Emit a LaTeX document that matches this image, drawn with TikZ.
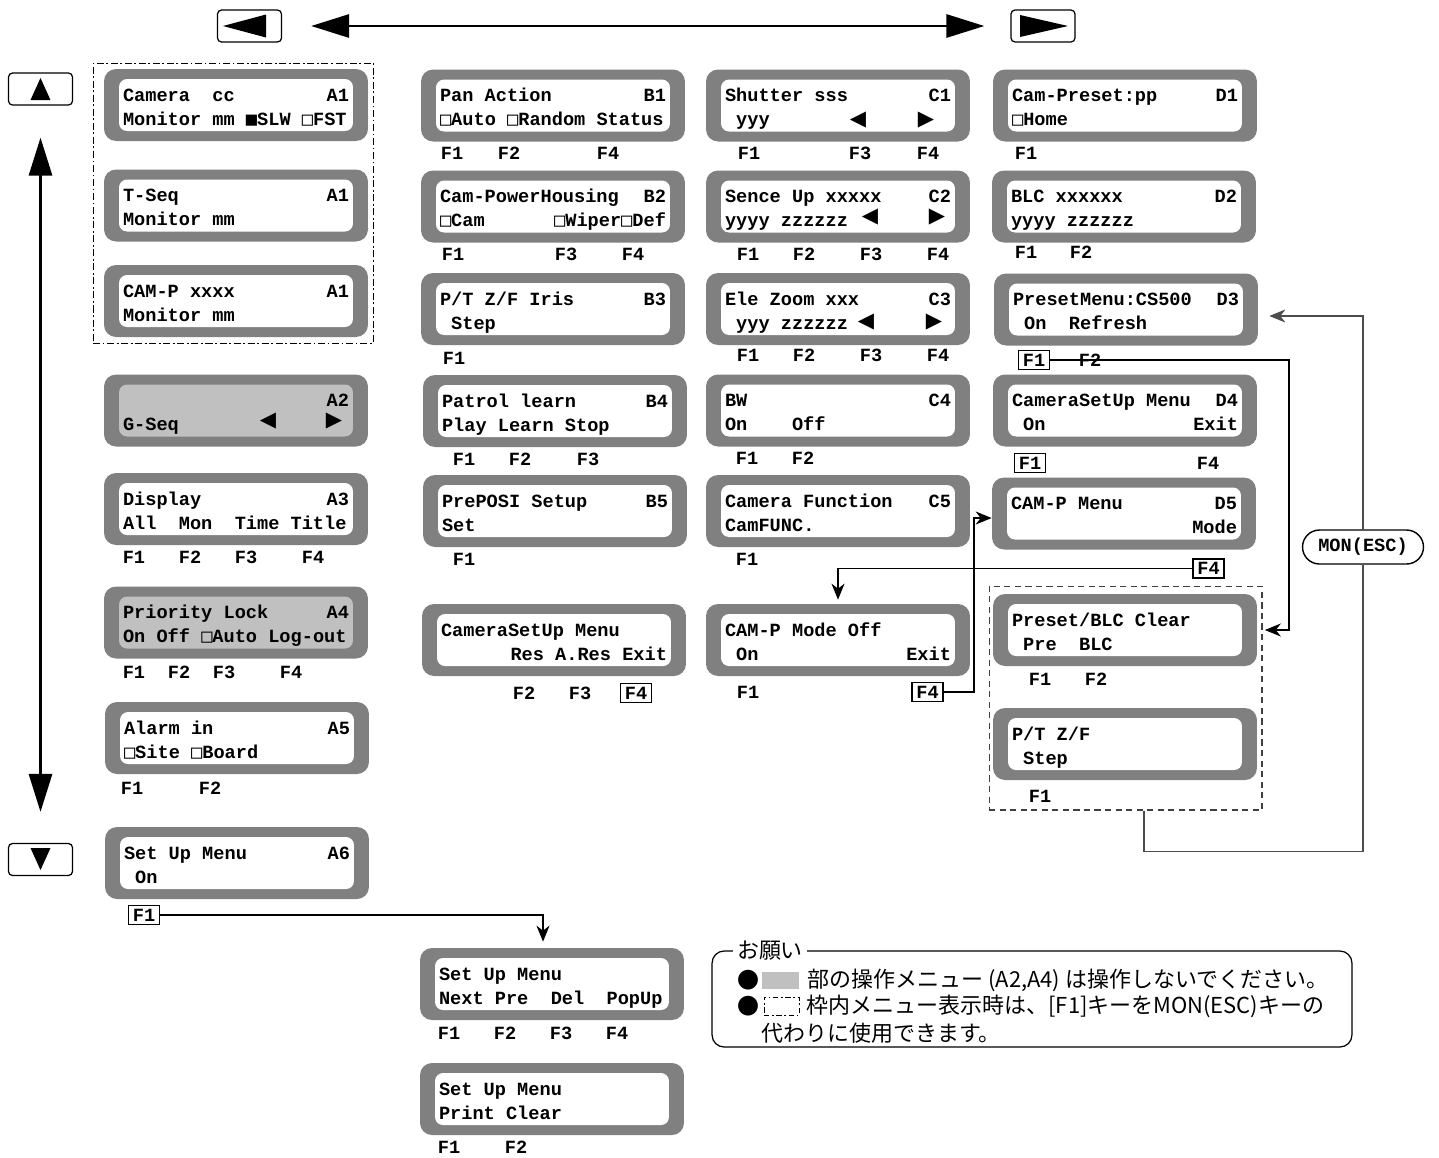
\documentclass[tikz,border=0pt]{standalone}
\usepackage{fontspec}
\usepackage{tikz}
\usetikzlibrary{arrows.meta, positioning, calc}
\newfontfamily\lcdfam{Liberation Mono}
\newfontfamily\symfam{DejaVu Sans Mono}
\newfontfamily\trifam{DejaVu Sans}
\newfontfamily\jpfont{Noto Sans CJK JP}
\definecolor{lcdgray}{RGB}{128,128,128}
\definecolor{lcdlight}{RGB}{192,192,192}
\newcommand{\lcdfont}{\lcdfam\bfseries\fontsize{10.6pt}{13.66pt}\selectfont}
\newcommand{\bsq}{{\symfam ■}}
\newcommand{\wsq}{{\symfam □}}
% one LCD character cell
\newcommand{\gap}{\hspace*{6.36pt}}
% one LCD screen: frame, glass and two text lines
\newcommand{\lcd}[5][white]{%
  \node[lcd] (#2) at (#3) {};
  \node[lcdin, fill=#1] (#2-in) at (#2) {};
  \node[lcdtxt] (#2-txt) at (#2) {\strut#4\\#5\strut};
}

\begin{document}
\begin{tikzpicture}[x=0.02cm, y=-0.02cm,
  lcd/.style={fill=lcdgray, rounded corners=0.24cm, minimum width=5.28cm, minimum height=1.44cm, inner sep=0},
  lcdin/.style={rounded corners=0.16cm, minimum width=4.68cm, minimum height=1.04cm, inner sep=0},
  lcdtxt/.style={text width=4.52cm, align=left, inner sep=0, yshift=-0.07cm, font=\lcdfont},
  fkey/.style={font=\lcdfont, inner sep=0},
  fkbox/.style={font=\lcdfont, draw, line width=0.85pt, inner xsep=0.09cm, inner ysep=0.07cm},
  tri/.style={font=\trifam\fontsize{12pt}{12pt}\selectfont, inner sep=0},
  btn/.style={draw, line width=0.7pt, rounded corners=0.08cm, minimum width=1.28cm, minimum height=0.64cm},
  big/.style={line width=1.7pt, {Triangle[length=0.76cm, width=0.46cm]}-{Triangle[length=0.76cm, width=0.46cm]}},
  flow/.style={line width=0.7pt, -{Stealth[length=0.32cm, width=0.26cm, inset=0.1cm]}},
  monline/.style={line width=0.7pt, black!70},
  notetxt/.style={font=\jpfont\fontsize{12.5pt}{15pt}\selectfont, inner sep=0}]
  \useasboundingbox (0,0) rectangle (1439,1157);

  % Cursor keys
  \node[btn] (bl) at (249.5,26) {};
  \fill ([xshift=-0.53cm]bl.center) -- ([xshift=0.33cm, yshift=0.23cm]bl.center) -- ([xshift=0.33cm, yshift=-0.23cm]bl.center) -- cycle;
  \node[btn] (br) at (1043,26) {};
  \fill ([xshift=0.5cm]br.center) -- ([xshift=-0.46cm, yshift=0.22cm]br.center) -- ([xshift=-0.46cm, yshift=-0.22cm]br.center) -- cycle;
  \node[btn] (bu) at (40.5,89) {};
  \fill ([yshift=0.22cm]bu.center) -- ([xshift=-0.2cm, yshift=-0.22cm]bu.center) -- ([xshift=0.2cm, yshift=-0.22cm]bu.center) -- cycle;
  \node[btn] (bd) at (40.5,859.5) {};
  \fill ([yshift=-0.21cm]bd.center) -- ([xshift=-0.2cm, yshift=0.23cm]bd.center) -- ([xshift=0.2cm, yshift=0.23cm]bd.center) -- cycle;
  \draw[big, shorten <=0.58cm, shorten >=0.52cm] (bl.east) -- (bl.east -| br.west);
  \draw[big, shorten <=0.64cm, shorten >=0.62cm] (bu.south) -- (bd.north);

  % Column A
  \node[draw, line width=0.5pt, dash pattern=on 4pt off 1.5pt on 1pt off 1.5pt, minimum width=5.6cm, minimum height=5.6cm] (afr) at (233,203) {};
  \lcd{a1}{236,105}{Camera\gap\gap cc\hfill A1}{Monitor\gap mm\gap\bsq SLW\gap\wsq FST}
  \lcd{a1t}{236,205.5}{T-Seq\hfill A1}{Monitor\gap mm}
  \lcd{a1c}{236,301}{CAM-P\gap xxxx\hfill A1}{Monitor\gap mm}
  \lcd[lcdlight]{a2}{236,410.5}{\hspace*{\fill}A2}{G-Seq}
  \node[tri] (a2l) at (268,421) {◀};
  \node[tri] (a2r) at (334,421) {▶};
  \lcd{a3}{236,509}{Display\hfill A3}{All\gap\gap Mon\gap\gap Time\gap Title}
  \node[fkey] (a3f1) at (134,557) {F1};
  \node[fkey] (a3f2) at (190,557) {F2};
  \node[fkey] (a3f3) at (246,557) {F3};
  \node[fkey] (a3f4) at (313,557) {F4};
  \lcd[lcdlight]{a4}{236,622.5}{Priority\gap Lock\hfill A4}{On\gap Off\gap\wsq Auto\gap Log-out}
  \node[fkey] (a4f1) at (134,672) {F1};
  \node[fkey] (a4f2) at (179,672) {F2};
  \node[fkey] (a4f3) at (224,672) {F3};
  \node[fkey] (a4f4) at (291,672) {F4};
  \lcd{a5}{237,738}{Alarm\gap in\hfill A5}{\wsq Site\gap\wsq Board}
  \node[fkey] (a5f1) at (132,788) {F1};
  \node[fkey] (a5f2) at (210,788) {F2};
  \lcd{a6}{237,863}{Set\gap Up\gap Menu\hfill A6}{\gap On}
  \node[fkbox] (a6f1) at (144,915) {F1};

  % Column B
  \lcd{b1}{553,105.5}{Pan\gap Action\hfill B1}{\wsq Auto\gap\wsq Random\gap Status}
  \node[fkey] (b1f1) at (452,153) {F1};
  \node[fkey] (b1f2) at (509,153) {F2};
  \node[fkey] (b1f4) at (608,153) {F4};
  \lcd{b2}{553,206.5}{Cam-PowerHousing\hfill B2}{\wsq Cam\hfill\wsq Wiper\wsq Def}
  \node[fkey] (b2f1) at (453,254) {F1};
  \node[fkey] (b2f3) at (566,254) {F3};
  \node[fkey] (b2f4) at (633,254) {F4};
  \lcd{b3}{553,309}{P/T\gap Z/F\gap Iris\hfill B3}{\gap Step}
  \node[fkey] (b3f1) at (454,358) {F1};
  \lcd{b4}{555,411}{Patrol\gap learn\hfill B4}{Play\gap Learn\gap Stop}
  \node[fkey] (b4f1) at (464,459) {F1};
  \node[fkey] (b4f2) at (520,459) {F2};
  \node[fkey] (b4f3) at (588,459) {F3};
  \lcd{b5}{555,511}{PrePOSI\gap Setup\hfill B5}{Set}
  \node[fkey] (b5f1) at (464,559) {F1};
  \lcd{b6}{554,640}{CameraSetUp\gap Menu}{\hspace*{\fill}Res\gap A.Res\gap Exit}
  \node[fkey] (b6f2) at (524,693) {F2};
  \node[fkey] (b6f3) at (580,693) {F3};
  \node[fkbox] (b6f4) at (636,693) {F4};

  % Set Up Menu pages
  \lcd{su1}{552,984}{Set\gap Up\gap Menu}{Next\gap Pre\gap\gap Del\gap\gap PopUp}
  \node[fkey] (su1f1) at (449,1033) {F1};
  \node[fkey] (su1f2) at (505,1033) {F2};
  \node[fkey] (su1f3) at (561,1033) {F3};
  \node[fkey] (su1f4) at (617,1033) {F4};
  \lcd{su2}{552,1099}{Set\gap Up\gap Menu}{Print\gap Clear}
  \node[fkey] (su2f1) at (449,1147) {F1};
  \node[fkey] (su2f2) at (516,1147) {F2};

  % Column C
  \lcd{c1}{838,105.5}{Shutter\gap sss\hfill C1}{\gap yyy}
  \node[tri] (c1l) at (858,120) {◀};
  \node[tri] (c1r) at (926,120) {▶};
  \node[fkey] (c1f1) at (749,153) {F1};
  \node[fkey] (c1f3) at (860,153) {F3};
  \node[fkey] (c1f4) at (928,153) {F4};
  \lcd{c2}{838,206.5}{Sence\gap Up\gap xxxxx\hfill C2}{yyyy\gap zzzzzz}
  \node[tri] (c2l) at (870,217) {◀};
  \node[tri] (c2r) at (937,217) {▶};
  \node[fkey] (c2f1) at (748,254) {F1};
  \node[fkey] (c2f2) at (804,254) {F2};
  \node[fkey] (c2f3) at (871,254) {F3};
  \node[fkey] (c2f4) at (938,254) {F4};
  \lcd{c3}{838,309}{Ele\gap Zoom\gap xxx\hfill C3}{\gap yyy\gap zzzzzz}
  \node[tri] (c3l) at (866,322) {◀};
  \node[tri] (c3r) at (934,322) {▶};
  \node[fkey] (c3f1) at (748,355) {F1};
  \node[fkey] (c3f2) at (804,355) {F2};
  \node[fkey] (c3f3) at (871,355) {F3};
  \node[fkey] (c3f4) at (938,355) {F4};
  \lcd{c4}{838,410.5}{BW\hfill C4}{On\gap\gap\gap\gap Off}
  \node[fkey] (c4f1) at (747,458) {F1};
  \node[fkey] (c4f2) at (803,458) {F2};
  \lcd{c5}{838,511}{Camera\gap Function\hfill C5}{CamFUNC.}
  \node[fkey] (c5f1) at (747,559) {F1};
  \lcd{c6}{838,640}{CAM-P\gap Mode\gap Off}{\gap On\hfill Exit}
  \node[fkey] (c6f1) at (748,692) {F1};
  \node[fkbox] (c6f4) at (927.5,692) {F4};

  % Column D
  \lcd{d1}{1125,105.5}{Cam-Preset:pp\hfill D1}{\wsq Home}
  \node[fkey] (d1f1) at (1026,153) {F1};
  \lcd{d2}{1124,206.5}{BLC\gap xxxxxx\hfill D2}{yyyy\gap zzzzzz}
  \node[fkey] (d2f1) at (1026,252) {F1};
  \node[fkey] (d2f2) at (1081,252) {F2};
  \lcd{d3}{1126,309.5}{PresetMenu:CS500\hfill D3}{\gap On\gap\gap Refresh}
  \node[fkbox] (d3f1) at (1034,360) {F1};
  \node[fkey] (d3f2) at (1090,360) {F2};
  \lcd{d4}{1125,410.5}{CameraSetUp\gap Menu\hfill D4}{\gap On\hfill Exit}
  \node[fkbox] (d4f1) at (1030,463) {F1};
  \node[fkey] (d4f4) at (1208,463) {F4};
  \lcd{d5}{1124,513.5}{CAM-P\gap Menu\hfill D5}{\hspace*{\fill}Mode}
  \node[fkbox] (d5f4) at (1208.5,568.5) {F4};
  \node[draw, black!75, line width=0.6pt, dash pattern=on 3.5pt off 2.5pt, minimum width=5.46cm, minimum height=4.48cm] (dfr) at (1125.5,698) {};
  \lcd{pb}{1125,630}{Preset/BLC\gap Clear}{\gap Pre\gap\gap BLC}
  \node[fkey] (pbf1) at (1040,679) {F1};
  \node[fkey] (pbf2) at (1096,679) {F2};
  \lcd{pt}{1125,744}{P/T\gap Z/F}{\gap Step}
  \node[fkey] (ptf1) at (1040,796) {F1};

  % MON(ESC) key
  \node[draw, fill=white, line width=0.8pt, rounded corners=0.34cm, minimum width=2.42cm, minimum height=0.68cm, font=\lcdfont] (mon) at (1363,547) {MON(ESC)};

  % Connectors
  \coordinate (d3turn) at (1289,360);
  \draw[flow] (d3f1.east) -- (d3turn) |- ([xshift=0.15cm]pb.east);
  \draw[flow] (c6f4.east) -- ++(30,0) |- ([yshift=-0.09cm]d5.west);
  \draw[flow] (d5f4.west) -| ([yshift=0.08cm]c6.north);
  \draw[flow] (a6f1.east) -| ([xshift=-0.18cm, yshift=0.12cm]su1.north);
  \draw[monline] ([xshift=0.37cm]dfr.south) -- ++(0,41) -| (mon.south);
  \draw[monline, -{Stealth[length=0.32cm, width=0.26cm, inset=0.1cm]}] (mon.north) |- ([xshift=0.22cm, yshift=-0.13cm]d3.east);

  % Note
  \node[draw, line width=0.7pt, rounded corners=0.24cm, minimum width=12.8cm, minimum height=1.92cm] (note) at (1032,999) {};
  \node[notetxt, fill=white, inner sep=0.08cm] (ttl) at (770,951) {お願い};
  \node[notetxt, anchor=west] (n1b) at (737,980) {●};
  \node[fill=lcdlight, minimum width=0.74cm, minimum height=0.34cm, inner sep=0, right=0.04cm of n1b] (n1g) {};
  \node[notetxt, right=0.16cm of n1g] (n1t) {部の操作メニュー (A2,A4) は操作しないでください。};
  \node[notetxt, anchor=west] (n2b) at (737,1006) {●};
  \node[draw, line width=0.5pt, dash pattern=on 3pt off 1.5pt on 1pt off 1.5pt, minimum width=0.7cm, minimum height=0.36cm, inner sep=0, right=0.08cm of n2b] (n2f) {};
  \node[notetxt, right=0.14cm of n2f] (n2t) {枠内メニュー表示時は、[F1]キーをMON(ESC)キーの};
  \node[notetxt, anchor=west] (n3t) at (761,1033) {代わりに使用できます。};
\end{tikzpicture}
\end{document}
